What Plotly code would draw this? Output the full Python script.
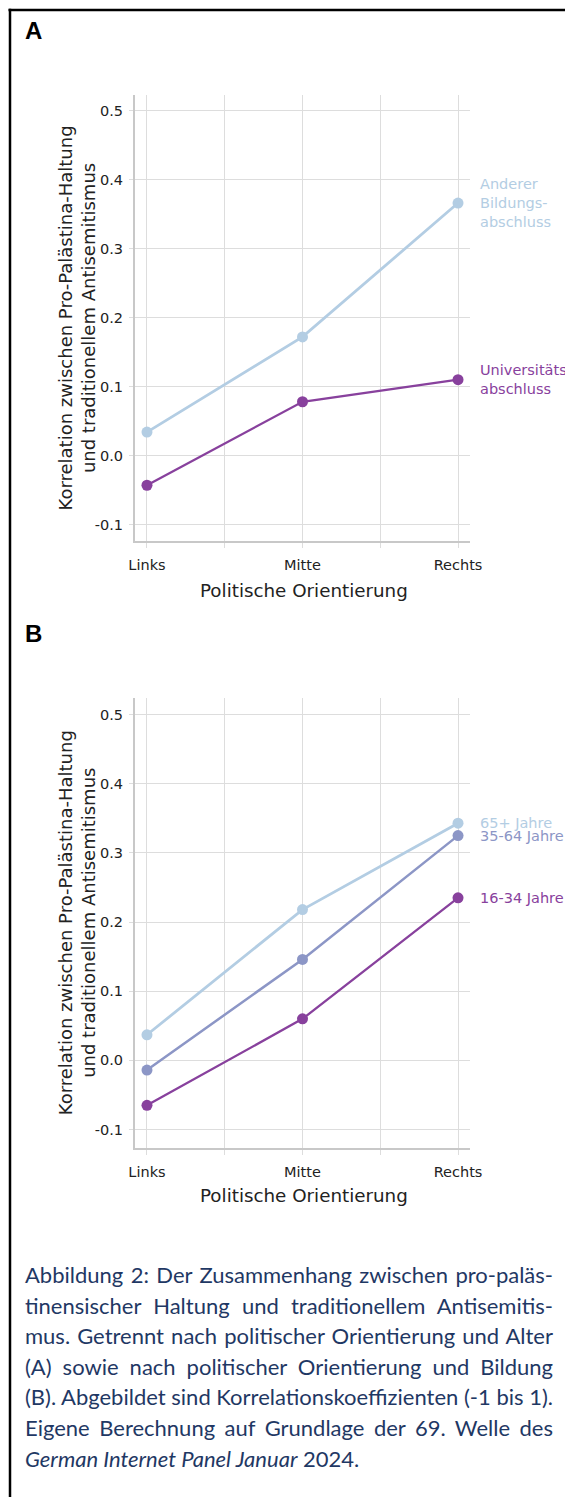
import json
import plotly.graph_objects as go

W, H = 565, 1497

# ---------------- data ----------------
categories = ["Links", "Mitte", "Rechts"]
cat_pos = [0, 1, 2]

# Panel A (Bildung)
a_names = ["Anderer<br>Bildungs-<br>abschluss", "Universitäts<br>abschluss"]
a_anderer = [0.034, 0.172, 0.366]
a_uni = [-0.043, 0.078, 0.110]

# Panel B (Alter)
b_names = ["65+ Jahre", "35-64 Jahre", "16-34 Jahre"]
b_65 = [0.037, 0.218, 0.343]
b_35 = [-0.014, 0.146, 0.325]
b_16 = [-0.065, 0.060, 0.235]

y_ticks = [-0.1, 0.0, 0.1, 0.2, 0.3, 0.4, 0.5]
y_ticktext = ["%.1f" % v for v in y_ticks]
x_grid = [0, 0.5, 1, 1.5, 2]
x_ticktext = ["Links", "", "Mitte", "", "Rechts"]

caption_lines = [
    "Abbildung 2: Der Zusammenhang zwischen pro-paläs-",
    "tinensischer Haltung und traditionellem Antisemitis-",
    "mus. Getrennt nach politischer Orientierung und Alter",
    "(A) sowie nach politischer Orientierung und Bildung",
    "(B). Abgebildet sind Korrelationskoeffizienten (-1 bis 1).",
    "Eigene Berechnung auf Grundlage der 69. Welle des",
    "<i>German Internet Panel Januar</i> 2024.",
]
justified_lines = caption_lines[:6]

# ---------------- style ----------------
C_LIGHT = "#b3cde3"
C_MID = "#8c96c6"
C_DARK = "#88419d"
FONT = "DejaVu Sans"
GRID = "#dddddd"
AXLINE = "#c8c8c8"


def px(x):
    return x / W


def py(y):
    return 1 - y / H


fig = go.Figure()


def add_series(vals, color, xa, ya, width=2.5):
    fig.add_trace(go.Scatter(
        x=cat_pos, y=vals, mode="lines+markers",
        line=dict(color=color, width=width),
        marker=dict(color=color, size=11),
        xaxis=xa, yaxis=ya, showlegend=False, hoverinfo="x+y",
    ))


add_series(a_anderer, C_LIGHT, "x", "y", 2.8)
add_series(a_uni, C_DARK, "x", "y", 2.3)
add_series(b_65, C_LIGHT, "x2", "y2", 2.8)
add_series(b_35, C_MID, "x2", "y2", 2.5)
add_series(b_16, C_DARK, "x2", "y2", 2.3)

x_dom = [px(135), px(470)]
xa_common = dict(
    domain=x_dom, range=[-0.077, 2.077], tickmode="array",
    tickvals=x_grid, ticktext=x_ticktext, showgrid=True, gridcolor=GRID,
    gridwidth=1, showline=True, linecolor=AXLINE, linewidth=2,
    ticks="outside", ticklen=5, tickcolor=GRID, tickwidth=1,
    tickfont=dict(family=FONT, size=14.5, color="#222222"),
    ticklabelstandoff=5, zeroline=False, fixedrange=True, automargin=False,
)
ya_common = dict(
    tickmode="array", tickvals=y_ticks, ticktext=y_ticktext,
    showgrid=True, gridcolor=GRID, gridwidth=1, showline=True,
    linecolor=AXLINE, linewidth=2, ticks="outside", ticklen=4,
    tickcolor=GRID, tickwidth=1,
    tickfont=dict(family=FONT, size=14.5, color="#222222"),
    ticklabelstandoff=3, zeroline=False, fixedrange=True, automargin=False,
)

fig.update_layout(
    width=W, height=H, autosize=False,
    margin=dict(l=0, r=0, t=0, b=0, pad=0, autoexpand=False),
    paper_bgcolor="white", plot_bgcolor="white",
    xaxis=dict(**xa_common, anchor="y"),
    yaxis=dict(**ya_common, domain=[py(541), py(95)], range=[-0.1238, 0.5226], anchor="x"),
    xaxis2=dict(**xa_common, anchor="y2"),
    yaxis2=dict(**ya_common, domain=[py(1147.5), py(698)], range=[-0.126, 0.524], anchor="x2"),
)

ann = []
# series labels
for vals, name, color, xr, yr in [
    (a_anderer, a_names[0], C_LIGHT, "x", "y"),
    (a_uni, a_names[1], C_DARK, "x", "y"),
    (b_65, b_names[0], C_LIGHT, "x2", "y2"),
    (b_35, b_names[1], C_MID, "x2", "y2"),
    (b_16, b_names[2], C_DARK, "x2", "y2"),
]:
    ann.append(dict(x=cat_pos[-1], y=vals[-1], xref=xr, yref=yr, text=name,
                    xanchor="left", yanchor="middle", xshift=20, showarrow=False,
                    align="left", font=dict(family=FONT, size=14.5, color=color)))

# axis titles and panel letters
ytitle = "Korrelation zwischen Pro-Palästina-Haltung<br>und traditionellem Antisemitismus"
for letter, ly, ycenter, xt_y in [("A", 31, 318, 590), ("B", 633, 922.75, 1195)]:
    ann.append(dict(x=px(23), y=py(ly), xref="paper", yref="paper", text="<b>%s</b>" % letter,
                    xanchor="left", yanchor="middle", showarrow=False,
                    font=dict(family="Liberation Sans", size=24, color="black")))
    ann.append(dict(x=px(76.5), y=py(ycenter), xref="paper", yref="paper", text=ytitle,
                    textangle=-90, xanchor="center", yanchor="middle", showarrow=False,
                    font=dict(family=FONT, size=18, color="#222222")))
    ann.append(dict(x=px(304), y=py(xt_y), xref="paper", yref="paper",
                    text="Politische Orientierung", xanchor="center", yanchor="middle",
                    showarrow=False, font=dict(family=FONT, size=18.3, color="#222222")))

# caption
line_y0, line_dy = 1274.5, 30.6
for i, line in enumerate(caption_lines):
    ann.append(dict(x=px(23), y=py(line_y0 + i * line_dy), xref="paper", yref="paper",
                    text=line, xanchor="left", yanchor="middle", showarrow=False,
                    align="left", font=dict(family="Lato", size=22, color="#1f3864")))

fig.update_layout(annotations=ann)

# border (top and left)
fig.add_shape(type="line", xref="paper", yref="paper", x0=px(8.5), x1=1.0,
              y0=py(10), y1=py(10), line=dict(color="black", width=2.5))
fig.add_shape(type="line", xref="paper", yref="paper", x0=px(10), x1=px(10),
              y0=py(8.8), y1=0.0, line=dict(color="black", width=2.5))

# page tweaks: no body margin / scrollbars; justify the caption lines
post_js = """
document.documentElement.style.margin='0';
document.body.style.margin='0';
document.documentElement.style.overflow='hidden';
document.body.style.overflow='hidden';
var JUST = %s;
var LEFT = 25, RIGHT = 553;
var gd = document.getElementById('{plot_id}');
var texts = gd.querySelectorAll('text.annotation-text');
texts.forEach(function(t){
  var s = t.textContent;
  if (JUST.indexOf(s) < 0) return;
  var n = (s.match(/ /g) || []).length;
  if (!n) return;
  var b0 = t.getBoundingClientRect();
  var gdr = gd.getBoundingClientRect();
  var ws = ((RIGHT - LEFT) - b0.width) / n;
  t.style.wordSpacing = ws + 'px';
  var b1 = t.getBoundingClientRect();
  var dx = (LEFT + gdr.left) - b1.left;
  var x0 = parseFloat(t.getAttribute('x') || '0');
  t.setAttribute('x', x0 + dx);
});
""" % json.dumps(justified_lines, ensure_ascii=False)

fig.write_html("out.html", post_script=post_js, config={"responsive": False})
